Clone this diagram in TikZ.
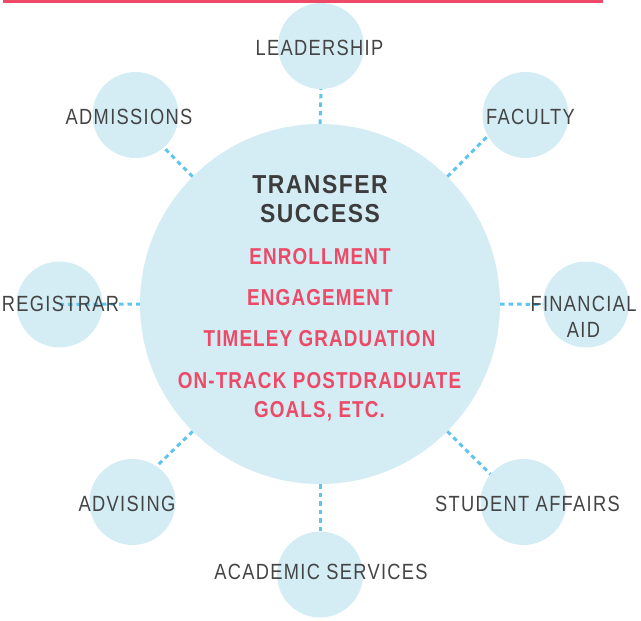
\documentclass[tikz,border=0pt]{standalone}
\usepackage{fontspec}
\newfontfamily\satfont[FakeStretch=0.83,LetterSpace=6]{Liberation Sans}
\newfontfamily\titlefont[FakeStretch=0.88,LetterSpace=6]{Liberation Sans Bold}
\newfontfamily\redfont[FakeStretch=0.82,LetterSpace=5]{Liberation Sans Bold}
\definecolor{topred}{HTML}{EE4A68}
\definecolor{bubble}{HTML}{D4EDF5}
\definecolor{dashblue}{HTML}{5EC5EC}
\definecolor{labelgrey}{HTML}{444444}
\definecolor{titlegrey}{HTML}{3C3C3C}
\definecolor{goalred}{HTML}{EC4A67}
\tikzset{
  hub/.style={circle,fill=bubble,minimum size=360pt,inner sep=0pt},
  sat/.style={circle,fill=bubble,minimum size=86pt,inner sep=0pt},
  link/.style={draw=dashblue,line width=3pt,dash pattern=on 4.5pt off 4pt},
  satlabel/.style={anchor=base,inner sep=0pt,text=labelgrey,font=\satfont\fontsize{22}{26}\selectfont},
  titlelabel/.style={anchor=base,inner sep=0pt,text=titlegrey,font=\titlefont\fontsize{26}{30}\selectfont},
  goallabel/.style={anchor=base,inner sep=0pt,text=goalred,font=\redfont\fontsize{23}{27}\selectfont}
}
\begin{document}
\begin{tikzpicture}[x=1pt,y=-1pt]
\useasboundingbox (0,0) rectangle (641,621);
\fill[topred] (3,0) rectangle (603,3);
% circles
\node[hub] (main) at (320,304) {};
\node[sat] (lead) at (321,46) {};
\node[sat] (adm) at (135.5,115) {};
\node[sat] (fac) at (525.5,115) {};
\node[sat] (reg) at (59.5,304.5) {};
\node[sat] (fin) at (586,304.5) {};
\node[sat] (adv) at (132.5,502) {};
\node[sat] (stu) at (523.5,502) {};
\node[sat] (aca) at (320,574.5) {};
% connectors
\draw[link] (main.90) -- (lead.270);
\draw[link] (main.135) -- (adm.311);
\draw[link] (main.45) -- (fac.209);
\draw[link] (reg.center) -- (main.180);
\draw[link] (main.0) -- (fin.180);
\draw[link] (main.225) -- (adv.56);
\draw[link] (main.315) -- (stu.140);
\draw[link] (main.270) -- (aca.90);
% satellite labels
\node[satlabel] (tlead) at (319.5,56) {LEADERSHIP};
\node[satlabel] (tadm) at (129,124) {ADMISSIONS};
\node[satlabel] (tfac) at (530.5,124) {FACULTY};
\node[satlabel] (treg) at (60.5,311) {REGISTRAR};
\node[satlabel] (tfin) at (583.5,311) {FINANCIAL};
\node[satlabel] (taid) at (583.5,337) {AID};
\node[satlabel] (tadv) at (127,511) {ADVISING};
\node[satlabel] (tstu) at (527.5,511) {STUDENT AFFAIRS};
\node[satlabel] (taca) at (321,579) {ACADEMIC SERVICES};
% centre texts
\node[titlelabel] (t1) at (320,193) {TRANSFER};
\node[titlelabel] (t2) at (320,222) {SUCCESS};
\node[goallabel] (g1) at (320,264) {ENROLLMENT};
\node[goallabel] (g2) at (320,305) {ENGAGEMENT};
\node[goallabel] (g3) at (319.5,346) {TIMELEY GRADUATION};
\node[goallabel] (g4) at (319.5,388) {ON-TRACK POSTDRADUATE};
\node[goallabel] (g5) at (319.5,417) {GOALS, ETC.};
\end{tikzpicture}
\end{document}
